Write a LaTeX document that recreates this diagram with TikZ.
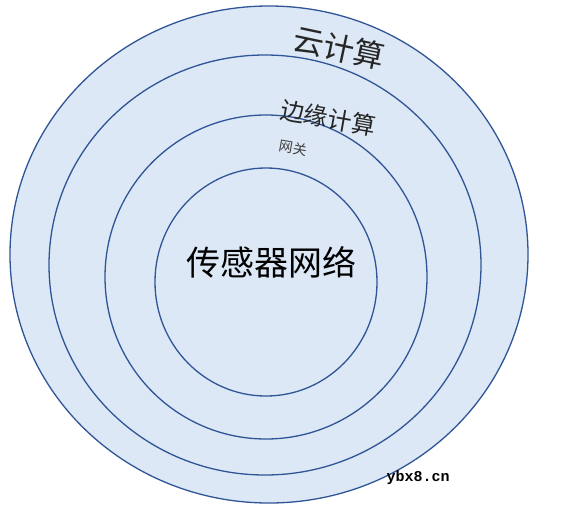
\documentclass[tikz,border=0pt]{standalone}
\usepackage{fontspec}
\newfontfamily\cjk{Noto Sans CJK SC}
\newfontfamily\monof{Liberation Mono}
\definecolor{ringfill}{RGB}{220,232,245}
\definecolor{ringline}{RGB}{47,85,151}
\begin{document}
\begin{tikzpicture}[x=1pt,y=-1pt,
  ring/.style={draw=ringline,line width=1.3pt,fill=ringfill},
  lbl/.style={inner sep=0pt,font=\cjk}]
\useasboundingbox (0,0) rectangle (564,509);
\draw[ring] (269,254.5) ellipse [x radius=259,y radius=248.5];
\draw[ring] (265,265) ellipse [x radius=216,y radius=210];
\draw[ring] (266,277) ellipse [x radius=161,y radius=162];
\draw[ring] (266,282) ellipse [x radius=111,y radius=114];
% labels
\node[lbl,rotate=-12,text=black!85,font=\cjk\fontsize{31}{31}\selectfont] (cloud) at (339,48) {云计算};
\node[lbl,rotate=-10,text=black!85,font=\cjk\fontsize{24}{24}\selectfont] (edge) at (328,118) {边缘计算};
\node[lbl,rotate=-10,text=black!75,font=\cjk\fontsize{14}{14}\selectfont] (gw) at (293,148) {网关};
\node[lbl,font=\cjk\fontsize{34}{34}\selectfont] (sensor) at (271,262) {传感器网络};
\node[inner sep=0pt,font=\monof\bfseries\fontsize{15}{15}\selectfont] (wm) at (418,478) {ybx8.cn};
\end{tikzpicture}
\end{document}
